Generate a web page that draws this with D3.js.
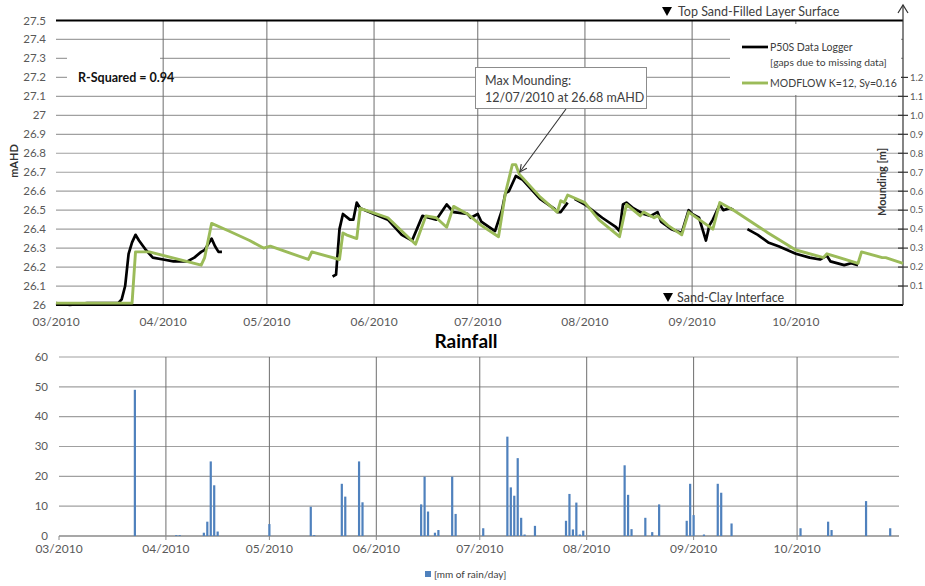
<!DOCTYPE html>
<html><head><meta charset="utf-8">
<script src="https://cdn.jsdelivr.net/npm/d3@7"></script>
<style>
body{margin:0;background:#fff}
svg{display:block}
text{font-family:Lato,'Open Sans',sans-serif}
</style>
</head><body>
<svg id="c" width="925" height="586"></svg>
<script>
// ---------- DATA ----------
const monthTicks = ["2010-03-01","2010-04-01","2010-05-01","2010-06-01","2010-07-01","2010-08-01","2010-09-01","2010-10-01"];
const monthLabels = ["03/2010","04/2010","05/2010","06/2010","07/2010","08/2010","09/2010","10/2010"];
const levelTicks = [26,26.1,26.2,26.3,26.4,26.5,26.6,26.7,26.8,26.9,27,27.1,27.2,27.3,27.4,27.5];
const moundTicks = [0.1,0.2,0.3,0.4,0.5,0.6,0.7,0.8,0.9,1.0,1.1,1.2];
const rainTicks = [0,10,20,30,40,50,60];

// P50S data logger (mAHD); null = gap (missing data)
const loggerData = [
 ["2010-03-01",26.01],["2010-03-05",26.00],["2010-03-10",26.01],["2010-03-15",26.01],["2010-03-19",26.01],
 ["2010-03-20",26.03],["2010-03-21",26.10],["2010-03-22",26.27],["2010-03-23",26.33],["2010-03-24",26.37],
 ["2010-03-25",26.34],["2010-03-27",26.29],["2010-03-29",26.25],["2010-04-01",26.24],["2010-04-04",26.23],
 ["2010-04-08",26.23],["2010-04-10",26.25],["2010-04-12",26.28],["2010-04-13",26.29],["2010-04-15",26.35],
 ["2010-04-16",26.31],["2010-04-17",26.28],["2010-04-18",26.28],
 null,
 ["2010-05-20",26.15],["2010-05-21",26.16],["2010-05-22",26.40],["2010-05-23",26.48],["2010-05-25",26.45],
 ["2010-05-26",26.45],["2010-05-27",26.54],["2010-05-28",26.51],["2010-06-05",26.45],["2010-06-09",26.37],
 ["2010-06-12",26.34],["2010-06-15",26.47],["2010-06-19",26.45],["2010-06-22",26.53],["2010-06-24",26.49],
 ["2010-06-28",26.48],["2010-06-29",26.46],["2010-07-01",26.48],["2010-07-02",26.44],["2010-07-06",26.39],
 ["2010-07-08",26.50],["2010-07-09",26.59],["2010-07-10",26.60],["2010-07-12",26.68],["2010-07-14",26.66],
 ["2010-07-19",26.56],["2010-07-23",26.51],["2010-07-24",26.49],["2010-07-25",26.49],["2010-07-27",26.54],
 null,
 ["2010-07-29",26.56],["2010-08-01",26.53],["2010-08-06",26.46],["2010-08-10",26.41],["2010-08-11",26.39],
 ["2010-08-12",26.53],["2010-08-13",26.54],["2010-08-15",26.51],["2010-08-16",26.50],["2010-08-18",26.48],
 ["2010-08-20",26.47],["2010-08-22",26.49],["2010-08-23",26.44],["2010-08-26",26.40],["2010-08-29",26.38],
 ["2010-08-31",26.50],["2010-09-01",26.48],["2010-09-03",26.46],["2010-09-04",26.40],["2010-09-05",26.34],
 ["2010-09-06",26.42],["2010-09-07",26.45],["2010-09-09",26.53],["2010-09-10",26.50],["2010-09-12",26.51],
 ["2010-09-13",26.50],
 null,
 ["2010-09-17",26.40],["2010-09-20",26.37],["2010-09-23",26.33],["2010-09-26",26.31],["2010-10-01",26.27],
 ["2010-10-05",26.25],["2010-10-08",26.24],["2010-10-09",26.25],["2010-10-10",26.26],["2010-10-11",26.23],
 ["2010-10-15",26.21],["2010-10-17",26.22],["2010-10-19",26.21]
];

// MODFLOW K=12, Sy=0.16 (mAHD)
const modflowData = [
 ["2010-03-01",26.01],["2010-03-10",26.01],["2010-03-23",26.01],["2010-03-24",26.28],["2010-03-28",26.28],
 ["2010-04-12",26.21],["2010-04-13",26.25],["2010-04-15",26.43],["2010-04-20",26.39],["2010-04-26",26.34],
 ["2010-04-30",26.30],["2010-05-02",26.31],["2010-05-13",26.24],["2010-05-14",26.28],["2010-05-22",26.24],
 ["2010-05-23",26.38],["2010-05-24",26.37],["2010-05-27",26.35],["2010-05-28",26.51],["2010-06-05",26.46],
 ["2010-06-13",26.32],["2010-06-16",26.47],["2010-06-19",26.46],["2010-06-22",26.41],["2010-06-24",26.52],
 ["2010-06-28",26.48],["2010-07-02",26.42],["2010-07-07",26.36],["2010-07-09",26.59],["2010-07-11",26.74],
 ["2010-07-12",26.74],["2010-07-13",26.69],["2010-07-19",26.57],["2010-07-24",26.49],["2010-07-25",26.55],
 ["2010-07-26",26.54],["2010-07-27",26.58],["2010-08-01",26.54],["2010-08-05",26.45],["2010-08-11",26.36],
 ["2010-08-13",26.53],["2010-08-17",26.47],["2010-08-18",26.49],["2010-08-21",26.46],["2010-08-22",26.47],
 ["2010-08-25",26.42],["2010-08-29",26.37],["2010-08-31",26.49],["2010-09-07",26.40],["2010-09-09",26.54],
 ["2010-09-13",26.50],["2010-09-23",26.38],["2010-10-01",26.29],["2010-10-09",26.25],["2010-10-10",26.27],
 ["2010-10-19",26.22],["2010-10-20",26.28],["2010-10-26",26.25],["2010-10-27",26.25],["2010-11-01",26.22]
];

// Daily rainfall (mm/day)
const rainData = [
 ["2010-03-23",49],["2010-04-04",0.3],["2010-04-05",0.3],["2010-04-12",1.1],["2010-04-13",4.8],
 ["2010-04-14",25],["2010-04-15",17],["2010-04-16",1.5],["2010-05-01",4],["2010-05-13",9.8],
 ["2010-05-14",0.3],["2010-05-22",17.5],["2010-05-23",13.2],["2010-05-27",25],["2010-05-28",11.3],
 ["2010-06-14",10.6],["2010-06-15",19.9],["2010-06-16",8.2],["2010-06-18",1.1],["2010-06-19",2],
 ["2010-06-23",19.9],["2010-06-24",7.4],["2010-07-02",2.6],["2010-07-09",33.3],["2010-07-10",16.3],
 ["2010-07-11",13.5],["2010-07-12",26.1],["2010-07-13",6.1],["2010-07-14",0.5],["2010-07-17",3.4],
 ["2010-07-26",5.1],["2010-07-27",14.1],["2010-07-28",2.2],["2010-07-29",11.2],["2010-07-30",0.5],
 ["2010-07-31",1.8],["2010-08-12",23.7],["2010-08-13",13.8],["2010-08-14",2.3],["2010-08-18",6.1],
 ["2010-08-20",1.3],["2010-08-22",10.6],["2010-08-30",5.1],["2010-08-31",17.5],["2010-09-01",7],
 ["2010-09-04",0.5],["2010-09-08",17.5],["2010-09-09",14.5],["2010-09-12",4.2],["2010-10-02",2.6],
 ["2010-10-10",4.8],["2010-10-11",2],["2010-10-21",11.7],["2010-10-28",2.6]
];

const maxMound = ["2010-07-12", 26.68];

// ---------- DRAW ----------
const parse = d3.timeParse("%Y-%m-%d");
const svg = d3.select("#c");
const start = parse("2010-03-01"), end = parse("2010-11-01");
const txt = "#595959";

// Top chart scales
const xT = d3.scaleTime().domain([start, end]).range([56, 903]);
const yT = d3.scaleLinear().domain([26, 27.5]).range([305, 20.5]);

const gTop = svg.append("g");
gTop.selectAll("line.hg").data(levelTicks.filter(d => d > 26 && d < 27.5)).join("line")
  .attr("x1", xT(start)).attr("x2", xT(end))
  .attr("y1", d => yT(d)).attr("y2", d => yT(d))
  .attr("stroke", "#a0a0a0").attr("stroke-width", 1.2);
gTop.selectAll("line.vg").data(monthTicks.slice(1)).join("line")
  .attr("x1", d => xT(parse(d))).attr("x2", d => xT(parse(d)))
  .attr("y1", yT(27.5)).attr("y2", yT(26))
  .attr("stroke", "#6e6e6e").attr("stroke-width", 1);
[27.5, 26].forEach(v => gTop.append("line")
  .attr("x1", xT(start)).attr("x2", xT(end)).attr("y1", yT(v)).attr("y2", yT(v))
  .attr("stroke", "#000").attr("stroke-width", 2.2));

gTop.selectAll("text.yl").data(levelTicks).join("text")
  .attr("x", 46).attr("y", d => yT(d)).attr("dy", "0.35em")
  .attr("text-anchor", "end").attr("font-size", 11.5).attr("fill", txt)
  .text(d => String(+d.toFixed(1)));
gTop.selectAll("text.xl").data(monthTicks).join("text")
  .attr("x", d => xT(parse(d))).attr("y", 326)
  .attr("text-anchor", "middle").attr("font-size", 12).attr("fill", txt)
  .text((d, i) => monthLabels[i]);

gTop.append("text").attr("transform", "translate(18,161) rotate(-90)")
  .attr("text-anchor", "middle").attr("font-size", 11).attr("font-weight", "bold")
  .attr("fill", "#333").text("mAHD");

// right axis (mounding)
const ax = xT(end);
gTop.append("line").attr("x1", ax).attr("x2", ax).attr("y1", yT(26)).attr("y2", 5)
  .attr("stroke", "#333").attr("stroke-width", 1.2);
gTop.append("path").attr("d", `M${ax-5},13L${ax},5L${ax+5},13`)
  .attr("fill", "none").attr("stroke", "#333").attr("stroke-width", 1.2);
gTop.selectAll("line.rt").data(moundTicks).join("line")
  .attr("x1", ax - 5).attr("x2", ax + 5)
  .attr("y1", d => yT(26 + d)).attr("y2", d => yT(26 + d))
  .attr("stroke", "#333").attr("stroke-width", 1.2);
gTop.selectAll("text.rl").data(moundTicks).join("text")
  .attr("x", ax + 7).attr("y", d => yT(26 + d)).attr("dy", "0.35em")
  .attr("font-size", 9.5).attr("fill", txt).text(d => d.toFixed(1));
gTop.append("text").attr("transform", "translate(886,182) rotate(-90)")
  .attr("text-anchor", "middle").attr("font-size", 11).attr("font-weight", "bold")
  .attr("fill", "#333").text("Mounding [m]");

// white boxes covering gridlines
gTop.append("rect").attr("x", 67).attr("y", 50).attr("width", 93).attr("height", 40).attr("fill", "#fff");
gTop.append("text").attr("x", 78).attr("y", 82).attr("font-size", 12.5).attr("font-weight", "bold")
  .attr("fill", "#111").text("R-Squared = 0.94");
gTop.append("rect").attr("x", 730).attr("y", 24).attr("width", 171).attr("height", 71).attr("fill", "#fff");

// reference levels
gTop.append("path").attr("d", "M662,7L672,7L667,16Z").attr("fill", "#000");
gTop.append("text").attr("x", 678).attr("y", 16).attr("font-size", 12.5).attr("fill", "#404040")
  .text("Top Sand-Filled Layer Surface");
gTop.append("path").attr("d", "M663,293L673,293L668,302Z").attr("fill", "#000");
gTop.append("text").attr("x", 677).attr("y", 302).attr("font-size", 12.5).attr("fill", "#404040")
  .text("Sand-Clay Interface");

// lines
const line = d3.line().defined(d => d !== null)
  .x(d => xT(parse(d[0]))).y(d => yT(d[1]));
gTop.append("path").attr("d", line(loggerData)).attr("fill", "none")
  .attr("stroke", "#000").attr("stroke-width", 2.7).attr("stroke-linejoin", "round");
gTop.append("path").attr("d", line(modflowData)).attr("fill", "none")
  .attr("stroke", "#9bbb59").attr("stroke-width", 2.9).attr("stroke-linejoin", "round");

// legend
gTop.append("line").attr("x1", 742).attr("x2", 768).attr("y1", 47).attr("y2", 47)
  .attr("stroke", "#000").attr("stroke-width", 2.7);
gTop.append("text").attr("x", 770).attr("y", 51).attr("font-size", 10.5).attr("fill", "#404040").text("P50S Data Logger");
gTop.append("text").attr("x", 770).attr("y", 65.5).attr("font-size", 10.3).attr("fill", "#404040").text("[gaps due to missing data]");
gTop.append("line").attr("x1", 742).attr("x2", 768).attr("y1", 83).attr("y2", 83)
  .attr("stroke", "#9bbb59").attr("stroke-width", 2.9);
gTop.append("text").attr("x", 770).attr("y", 87).attr("font-size", 10.5).attr("fill", "#404040").text("MODFLOW K=12, Sy=0.16");

// annotation
gTop.append("rect").attr("x", 475.5).attr("y", 67.5).attr("width", 171).attr("height", 41)
  .attr("fill", "#fff").attr("stroke", "#8c8c8c").attr("stroke-width", 1);
gTop.append("text").attr("x", 485).attr("y", 85).attr("font-size", 12.5).attr("fill", "#404040").text("Max Mounding:");
gTop.append("text").attr("x", 485).attr("y", 102).attr("font-size", 12.5).attr("fill", "#404040").text("12/07/2010 at 26.68 mAHD");
const ax1 = 566, ay1 = 109;
const ax2 = xT(parse(maxMound[0])) + 4, ay2 = yT(maxMound[1]) - 4;
gTop.append("line").attr("x1", ax1).attr("y1", ay1).attr("x2", ax2).attr("y2", ay2)
  .attr("stroke", "#333").attr("stroke-width", 1.1);
{
  const ang = Math.atan2(ay2 - ay1, ax2 - ax1), L = 8, w = 0.45;
  const p1 = [ax2 - L * Math.cos(ang - w), ay2 - L * Math.sin(ang - w)];
  const p2 = [ax2 - L * Math.cos(ang + w), ay2 - L * Math.sin(ang + w)];
  gTop.append("path").attr("d", `M${p1}L${ax2},${ay2}L${p2}`)
    .attr("fill", "none").attr("stroke", "#333").attr("stroke-width", 1.1);
}

// ---------- Rainfall chart ----------
const xB = d3.scaleTime().domain([start, end]).range([59, 904]);
const yB = d3.scaleLinear().domain([0, 60]).range([536, 357]);
const gBot = svg.append("g");
const bRight = 899;

gBot.append("text").attr("x", 466).attr("y", 348).attr("text-anchor", "middle")
  .attr("font-size", 19).attr("font-weight", "bold").attr("fill", "#000").text("Rainfall");

gBot.selectAll("line.hg").data(rainTicks.filter(d => d > 0)).join("line")
  .attr("x1", xB(start)).attr("x2", bRight)
  .attr("y1", d => yB(d)).attr("y2", d => yB(d))
  .attr("stroke", "#a0a0a0").attr("stroke-width", 1.2);
gBot.selectAll("line.vg").data(monthTicks.slice(1)).join("line")
  .attr("x1", d => xB(parse(d))).attr("x2", d => xB(parse(d)))
  .attr("y1", yB(60)).attr("y2", yB(0))
  .attr("stroke", "#6e6e6e").attr("stroke-width", 1);
gBot.append("line").attr("x1", xB(start)).attr("x2", bRight).attr("y1", yB(0)).attr("y2", yB(0))
  .attr("stroke", "#8a8a8a").attr("stroke-width", 1.6);
gBot.selectAll("line.tk").data(monthTicks).join("line")
  .attr("x1", d => xB(parse(d))).attr("x2", d => xB(parse(d)))
  .attr("y1", yB(0)).attr("y2", yB(0) + 4)
  .attr("stroke", "#8a8a8a").attr("stroke-width", 1);

gBot.selectAll("rect.bar").data(rainData).join("rect")
  .attr("x", d => xB(parse(d[0])) - 1.1).attr("width", 2.2)
  .attr("y", d => yB(d[1])).attr("height", d => yB(0) - yB(d[1]))
  .attr("fill", "#4f81bd");

gBot.selectAll("text.yl").data(rainTicks).join("text")
  .attr("x", 48).attr("y", d => yB(d)).attr("dy", "0.33em")
  .attr("text-anchor", "end").attr("font-size", 11.5).attr("fill", txt).text(d => d);
gBot.selectAll("text.xl").data(monthTicks).join("text")
  .attr("x", d => xB(parse(d))).attr("y", 553)
  .attr("text-anchor", "middle").attr("font-size", 12).attr("fill", txt)
  .text((d, i) => monthLabels[i]);

gBot.append("rect").attr("x", 425).attr("y", 571).attr("width", 6).attr("height", 6).attr("fill", "#4f81bd");
gBot.append("text").attr("x", 434).attr("y", 578).attr("font-size", 10).attr("fill", "#404040").text("[mm of rain/day]");
</script>
</body></html>
